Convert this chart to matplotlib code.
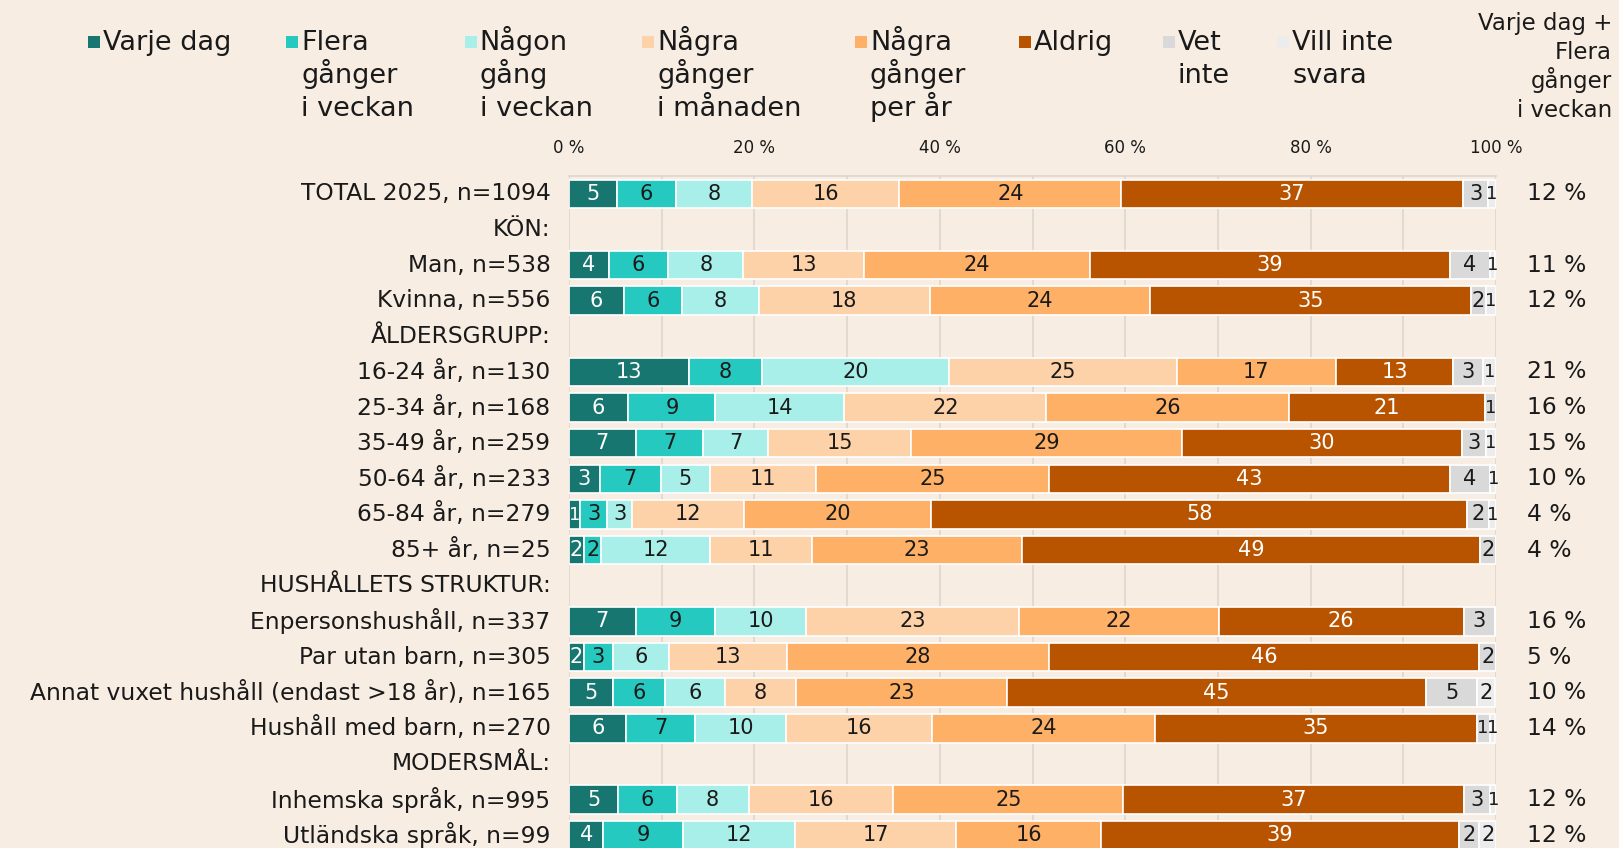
import numpy as np
import matplotlib.pyplot as plt
from matplotlib.patches import Rectangle

# --- Data ---
rows = ["TOTAL 2025, n=1094", "KÖN:", "Man, n=538", "Kvinna, n=556", "ÅLDERSGRUPP:",
        "16-24 år, n=130", "25-34 år, n=168", "35-49 år, n=259", "50-64 år, n=233",
        "65-84 år, n=279", "85+ år, n=25", "HUSHÅLLETS STRUKTUR:", "Enpersonshushåll, n=337",
        "Par utan barn, n=305", "Annat vuxet hushåll (endast >18 år), n=165",
        "Hushåll med barn, n=270", "MODERSMÅL:", "Inhemska språk, n=995", "Utländska språk, n=99"]
headers = ["KÖN:", "ÅLDERSGRUPP:", "HUSHÅLLETS STRUKTUR:", "MODERSMÅL:"]

series_names = ["Varje dag", "Flera\ngånger\ni veckan", "Någon\ngång\ni veckan",
                "Några\ngånger\ni månaden", "Några\ngånger\nper år", "Aldrig", "Vet\ninte",
                "Vill inte\nsvara"]
varje_dag = [5.15, 4.3, 5.9, 12.9, 6.4, 7.2, 3.3, 1.2, 1.6, 7.2, 1.6, 4.8, 6.2, 5.3, 3.7]
flera_ggr = [6.4, 6.4, 6.3, 7.9, 9.4, 7.3, 6.6, 2.9, 1.9, 8.6, 3.1, 5.6, 7.4, 6.3, 8.6]
nagon_gang = [8.2, 8.1, 8.3, 20.2, 13.9, 7.0, 5.3, 2.7, 11.7, 9.8, 6.1, 6.4, 9.8, 7.8, 12.1]
manaden = [15.9, 13.0, 18.4, 24.6, 21.8, 15.4, 11.4, 12.1, 11.0, 22.9, 12.7, 7.7, 15.8, 15.6, 17.4]
per_ar = [23.9, 24.4, 23.8, 17.1, 26.2, 29.2, 25.2, 20.2, 22.7, 21.6, 28.3, 22.7, 24.0, 24.8, 15.6]
aldrig = [36.9, 38.8, 34.6, 12.7, 21.1, 30.2, 43.2, 57.8, 49.4, 26.4, 46.4, 45.3, 34.7, 36.7, 38.6]
vet_inte = [2.7, 4.3, 1.6, 3.2, 1.2, 2.6, 4.4, 2.3, 1.7, 3.4, 1.8, 5.4, 1.4, 2.9, 2.2]
vill_inte = [0.8, 0.6, 1.1, 1.4, 0.0, 1.1, 0.6, 0.8, 0.0, 0.1, 0.0, 2.0, 0.6, 0.6, 1.8]
summa = [12, 11, 12, 21, 16, 15, 10, 4, 4, 16, 5, 10, 14, 12, 12]

colors = ["#17766f", "#26c9bf", "#a9efe9", "#fdd2a9", "#fdb066", "#b85400", "#d9d9d9", "#ececec"]
text_cols = ["white", "#1a1a1a", "#1a1a1a", "#1a1a1a", "#1a1a1a", "white", "#1a1a1a", "#1a1a1a"]
bg = "#f7ede3"

plt.rcParams['font.family'] = ['DejaVu Sans']

fig = plt.figure(figsize=(16.19, 8.48), dpi=100, facecolor=bg)
W, H = 1619, 848
ax = fig.add_axes([569 / W, 1 - 853 / H, (1496 - 569) / W, (853 - 176) / H])
ax.set_facecolor(bg)

data_y = [i for i, r in enumerate(rows) if r not in headers]
all_series = [varje_dag, flera_ggr, nagon_gang, manaden, per_ar, aldrig, vet_inte, vill_inte]

left = np.zeros(len(data_y))
for k, (vals, col, tc) in enumerate(zip(all_series, colors, text_cols)):
    vals = np.array(vals)
    ax.barh(data_y, vals, left=left, height=0.8, color=col, edgecolor="white", linewidth=1.2, zorder=3)
    for y, l, v in zip(data_y, left, vals):
        if round(v) >= 1:
            fs = 15 if v >= 1.6 else 13
            ax.text(l + v / 2, y, f"{v:.0f}", ha="center", va="center", color=tc, fontsize=fs, zorder=4)
    left += vals

ax.set_xlim(0, 100)
ax.set_ylim(len(rows) - 0.5, -0.5)
ax.xaxis.tick_top()
ax.set_xticks(np.arange(0, 101, 20))
ax.set_xticklabels([f"{t} %" for t in range(0, 101, 20)], fontsize=12, color="#1a1a1a")
ax.set_xticks(np.arange(10, 100, 20), minor=True)
ax.grid(axis="x", which="both", color="#ddd6cf", linewidth=1.2, zorder=0)
ax.tick_params(axis="x", which="both", length=0, pad=14)
ax.set_yticks([])
for s in ["left", "right", "bottom"]:
    ax.spines[s].set_visible(False)
ax.spines["top"].set_color("#ddd6cf")
ax.spines["top"].set_linewidth(1.2)

# row labels and right-hand column
for i, r in enumerate(rows):
    ax.text(-2, i, r, ha="right", va="center", fontsize=16.8, color="#1a1a1a")
for y, s in zip(data_y, summa):
    ax.text(103.3, y, f"{s} %", ha="left", va="center", fontsize=16.8, color="#1a1a1a")

# legend
leg_x = [85, 277, 450, 622, 828, 987, 1126, 1237]
for x, name, col in zip(leg_x, series_names, colors):
    xf = x * 1619 / 1568
    fig.patches.append(Rectangle((xf / W, 1 - 48 / H), 12 / W, 12 / H, transform=fig.transFigure,
                                 facecolor=col, edgecolor="none"))
    for j, line in enumerate(name.split("\n")):
        fig.text((xf + 15) / W, 1 - (50 + 33 * j) / H, line, ha="left", va="baseline",
                 fontsize=19.5, color="#1a1a1a")

for j, line in enumerate(["Varje dag +", "Flera", "gånger", "i veckan"]):
    fig.text(1612 / W, 1 - (30 + 29 * j) / H, line, ha="right", va="baseline",
             fontsize=16.5, color="#1a1a1a")

fig.savefig("out.png", dpi=100, facecolor=bg)
